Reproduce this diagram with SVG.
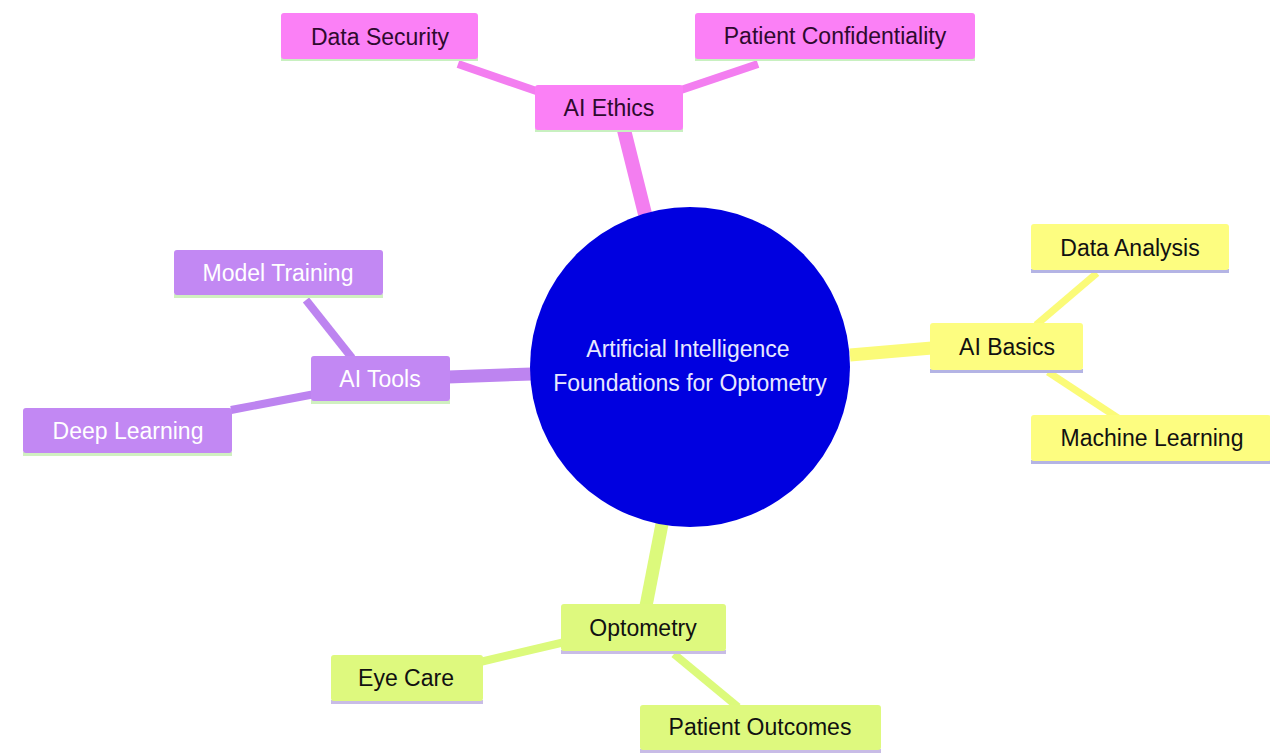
<svg xmlns="http://www.w3.org/2000/svg" width="1270" height="754" viewBox="0 0 1270 754">
<style>
.t{font-family:"Liberation Sans",Arial,sans-serif;font-size:23px;text-anchor:middle;dominant-baseline:central}
.pink rect.b{fill:#fb80f6}
.pink rect.u{fill:#c8f0c0}
.pink text{fill:#2e0a2e}
.purple rect.b{fill:#c288f3}
.purple rect.u{fill:#d0f0c0}
.purple text{fill:#ffffff}
.yellow rect.b{fill:#fdfd80}
.yellow rect.u{fill:#b4b4e4}
.yellow text{fill:#111111}
.green rect.b{fill:#def97e}
.green rect.u{fill:#c8bce6}
.green text{fill:#111111}
.cp{stroke:#f37ef0}
.cv{stroke:#bd84f0}
.cy{stroke:#fbfb78}
.cg{stroke:#dcfa7c}
#connectors line{stroke-linecap:butt}
</style>
<rect width="1270" height="754" fill="#ffffff"/>
<g id="connectors">
<line class="cp" x1="645" y1="214" x2="624" y2="130" stroke-width="14"/>
<line class="cv" x1="532" y1="374" x2="448" y2="377" stroke-width="13"/>
<line class="cy" x1="850" y1="355" x2="932" y2="348" stroke-width="13"/>
<line class="cg" x1="662" y1="524" x2="646" y2="606" stroke-width="13"/>
<line class="cp" x1="458" y1="64" x2="545" y2="94" stroke-width="8"/>
<line class="cp" x1="758" y1="64" x2="675" y2="92" stroke-width="8"/>
<line class="cy" x1="1097" y1="273" x2="1036" y2="325" stroke-width="7"/>
<line class="cy" x1="1048" y1="372" x2="1118" y2="418" stroke-width="7"/>
<line class="cv" x1="306" y1="300" x2="352" y2="358" stroke-width="8"/>
<line class="cv" x1="231" y1="410" x2="315" y2="394" stroke-width="8"/>
<line class="cg" x1="480" y1="662" x2="565" y2="642" stroke-width="8"/>
<line class="cg" x1="674" y1="654" x2="738" y2="707" stroke-width="8"/>
</g>
<g id="root">
<circle cx="690" cy="367" r="160" fill="#0000e0"/>
<text class="t" x="688" y="349" fill="#e8e8ff">Artificial Intelligence</text>
<text class="t" x="690" y="383" fill="#e8e8ff">Foundations for Optometry</text>
</g>
<g id="ai-ethics" class="pink"><rect class="u" x="535" y="128" width="148" height="4"/><rect class="b" x="535" y="85" width="148" height="45" rx="3"/><text class="t" x="609" y="108">AI Ethics</text></g>
<g id="data-security" class="pink"><rect class="u" x="281" y="57" width="197" height="4"/><rect class="b" x="281" y="13" width="197" height="46" rx="3"/><text class="t" x="380" y="37">Data Security</text></g>
<g id="patient-confidentiality" class="pink"><rect class="u" x="695" y="57" width="280" height="4"/><rect class="b" x="695" y="13" width="280" height="46" rx="3"/><text class="t" x="835" y="36">Patient Confidentiality</text></g>
<g id="ai-basics" class="yellow"><rect class="u" x="930" y="369" width="153" height="4"/><rect class="b" x="930" y="323" width="153" height="47" rx="3"/><text class="t" x="1007" y="347">AI Basics</text></g>
<g id="data-analysis" class="yellow"><rect class="u" x="1031" y="269" width="198" height="4"/><rect class="b" x="1031" y="224" width="198" height="46" rx="3"/><text class="t" x="1130" y="248">Data Analysis</text></g>
<g id="machine-learning" class="yellow"><rect class="u" x="1031" y="460" width="240" height="4"/><rect class="b" x="1031" y="415" width="240" height="46" rx="3"/><text class="t" x="1152" y="438">Machine Learning</text></g>
<g id="ai-tools" class="purple"><rect class="u" x="311" y="400" width="139" height="4"/><rect class="b" x="311" y="356" width="139" height="45" rx="3"/><text class="t" x="380" y="379">AI Tools</text></g>
<g id="model-training" class="purple"><rect class="u" x="174" y="294" width="209" height="4"/><rect class="b" x="174" y="250" width="209" height="45" rx="3"/><text class="t" x="278" y="273">Model Training</text></g>
<g id="deep-learning" class="purple"><rect class="u" x="23" y="452" width="209" height="4"/><rect class="b" x="23" y="408" width="209" height="45" rx="3"/><text class="t" x="128" y="431">Deep Learning</text></g>
<g id="optometry" class="green"><rect class="u" x="561" y="650" width="165" height="4"/><rect class="b" x="561" y="604" width="165" height="47" rx="3"/><text class="t" x="643" y="628">Optometry</text></g>
<g id="eye-care" class="green"><rect class="u" x="331" y="700" width="152" height="4"/><rect class="b" x="331" y="655" width="152" height="46" rx="3"/><text class="t" x="406" y="678">Eye Care</text></g>
<g id="patient-outcomes" class="green"><rect class="u" x="640" y="749" width="241" height="4"/><rect class="b" x="640" y="705" width="241" height="45" rx="3"/><text class="t" x="760" y="727">Patient Outcomes</text></g>
</svg>
